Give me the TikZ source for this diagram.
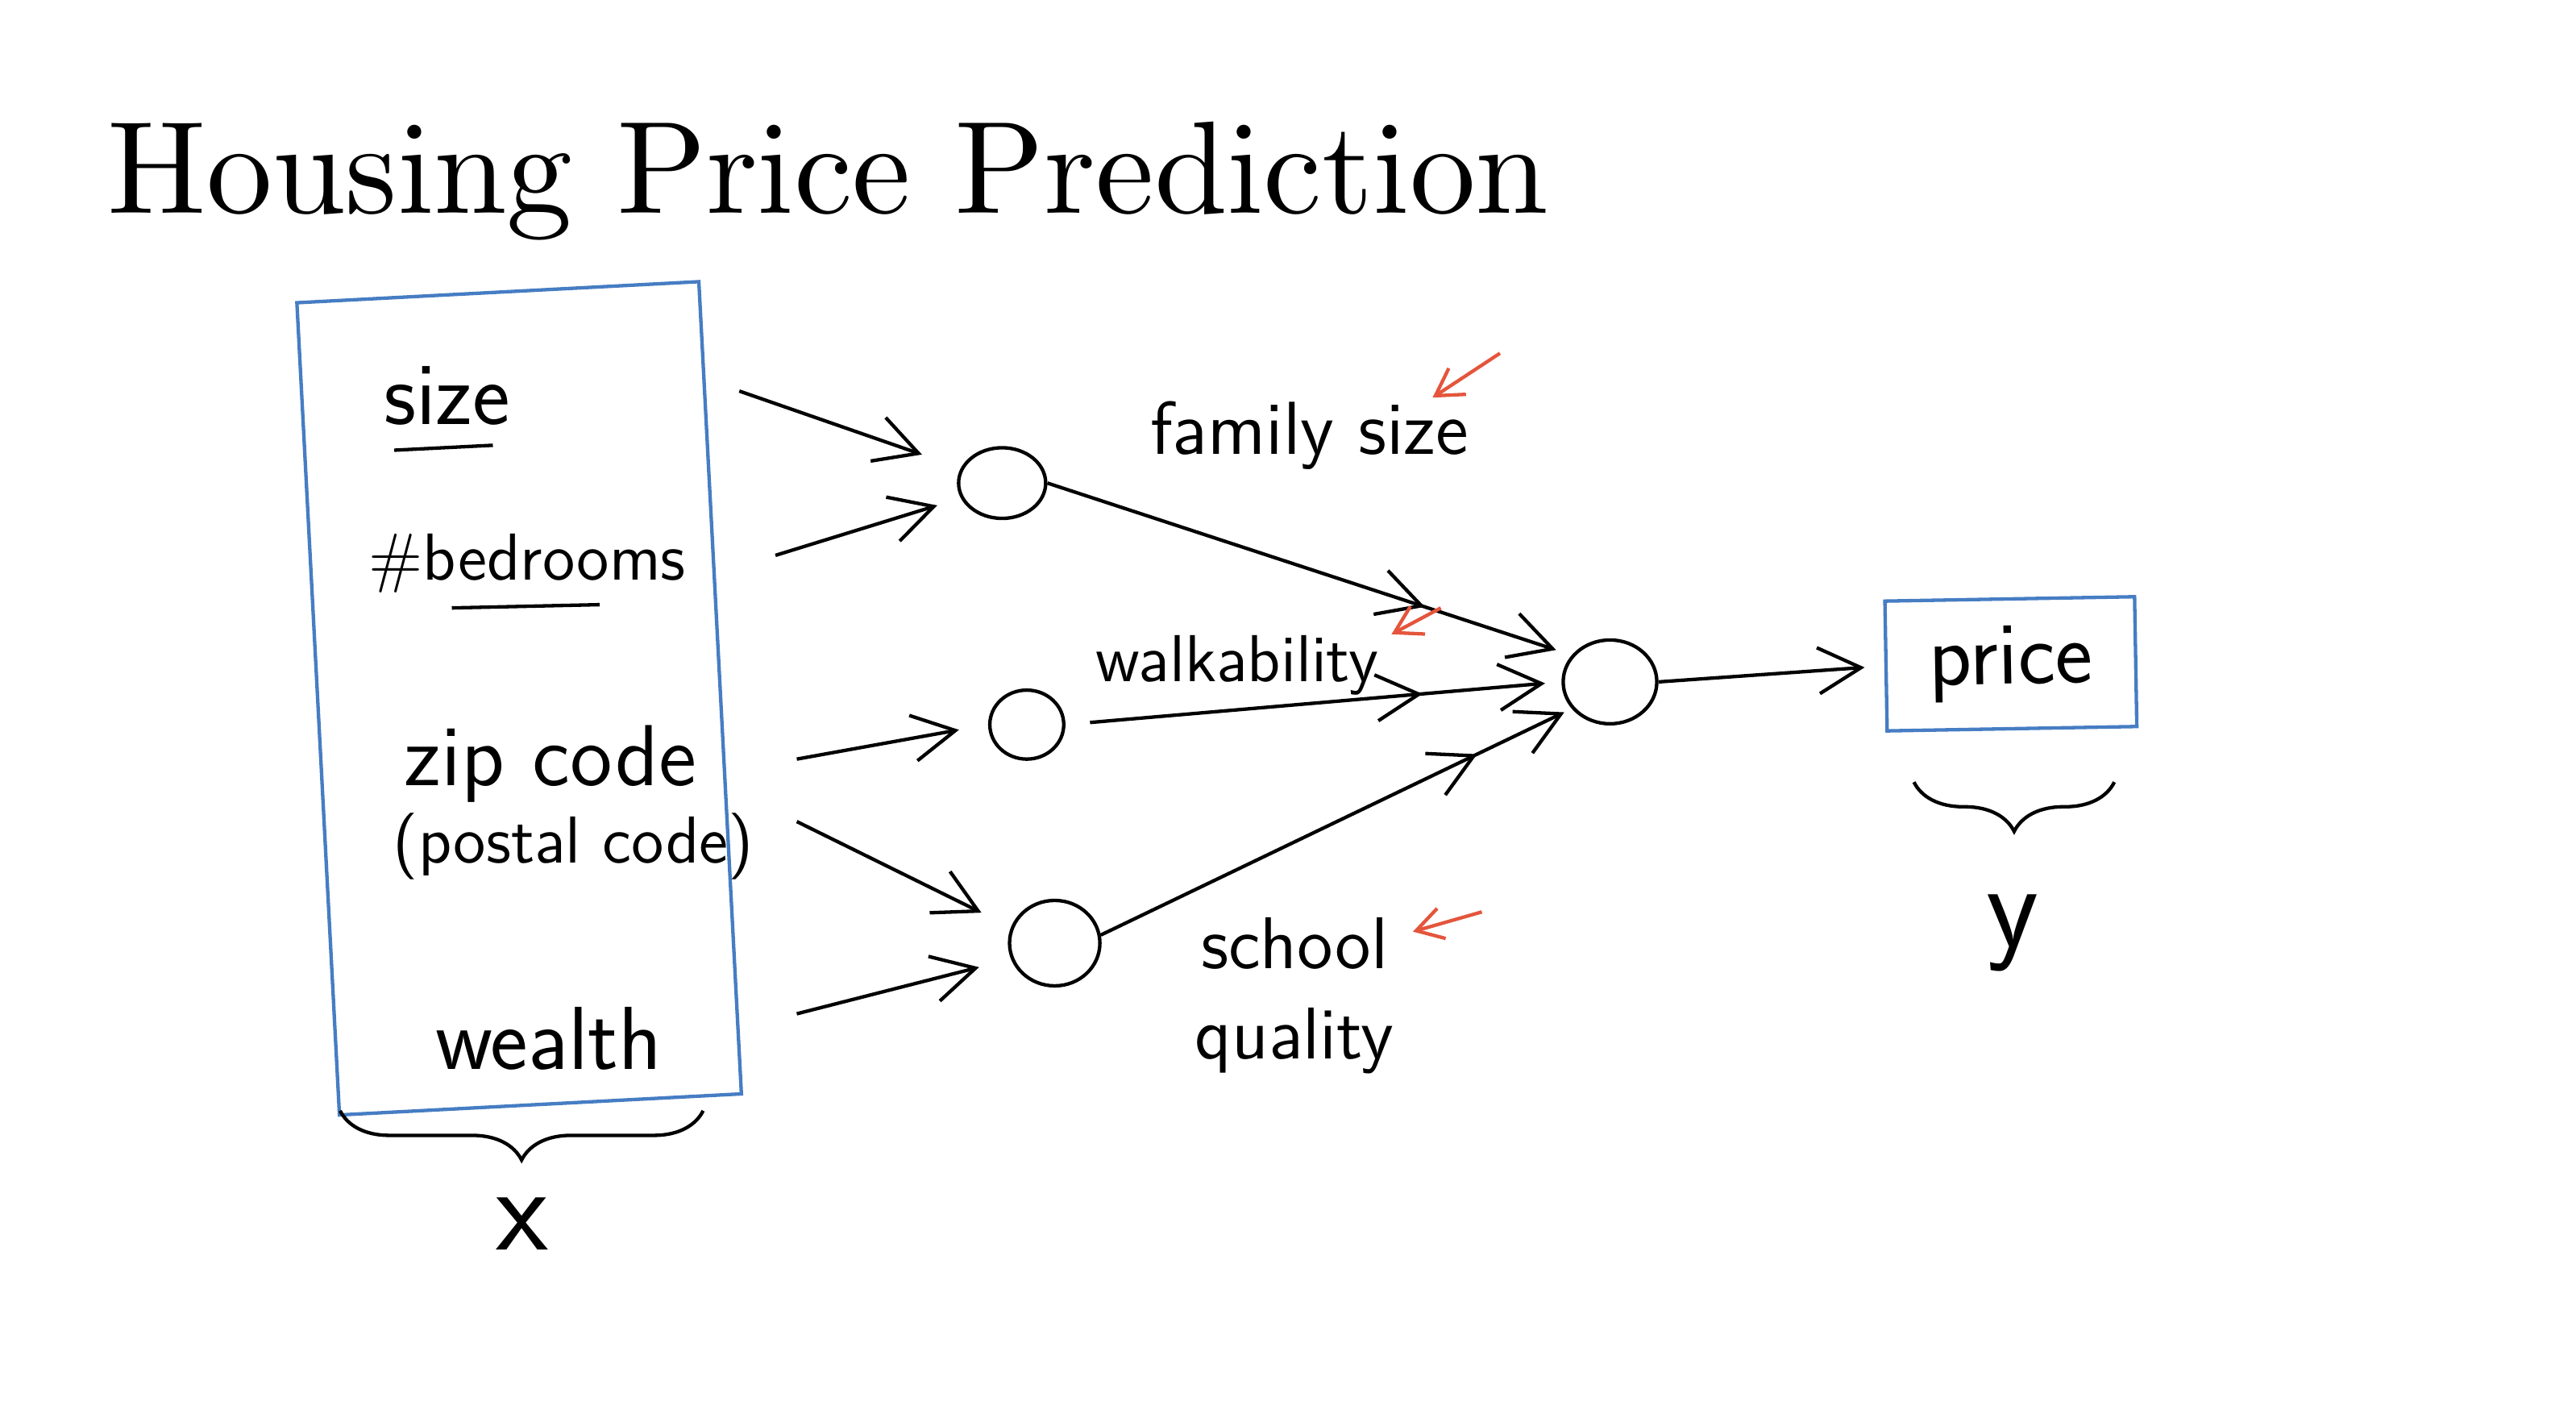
\documentclass[tikz,border=0pt]{standalone}
\usepackage{tikz}
\usepackage{xcolor}
\usetikzlibrary{arrows.meta,shapes.geometric,decorations.pathreplacing,decorations.markings}

\definecolor{penblue}{RGB}{70,125,195}
\definecolor{penred}{RGB}{228,85,60}
\font\headfont=cmr10 at 22.8pt

\begin{document}
\begin{tikzpicture}[x=0.1mm, y=-0.1mm,
    pen/.style={font=\sffamily\fontsize{13}{16}\selectfont, inner sep=1pt, align=center},
    penS/.style={pen, font=\sffamily\fontsize{11.5}{14}\selectfont},
    penL/.style={pen, font=\sffamily\fontsize{15.5}{18}\selectfont},
    penXL/.style={pen, font=\sffamily\fontsize{21}{24}\selectfont},
    unit/.style={draw, ellipse, inner sep=0pt, line width=0.6pt},
    inbox/.style={draw=penblue, line width=0.6pt, minimum width=24.5mm, minimum height=49.5mm, rotate=3},
    wire/.style={line width=0.6pt, -{Straight Barb[length=2.6mm, width=2.8mm]}},
    midhead/.style={postaction={decorate}, decoration={markings, mark=at position #1 with {\arrow{Straight Barb[length=2.6mm, width=2.8mm]}}}},
    midhead/.default=0.72,
    hint/.style={draw=penred, line width=0.6pt, -{Straight Barb[length=1.6mm, width=1.9mm]}},
    curly/.style={decorate, decoration={brace, mirror, amplitude=3mm}, line width=0.6pt}
]
\useasboundingbox (0,0) rectangle (1568,865);
\node[anchor=base west, inner sep=0pt, font=\headfont] (title) at (65,130) {Housing Price Prediction};
\node[inbox] (xbox) at (316,425) {};
\node[penL] (size) at (272,241) {size};
\node[penS] (beds) at (321,343) {\#bedrooms};
\node[penL, font=\sffamily\fontsize{15}{18}\selectfont] (zip) at (335,465) {zip code};
\node[penS] (postal) at (349,515) {(postal code)};
\node[penL] (wealth) at (334,632) {wealth};
\draw[line width=0.6pt] (240,274) -- (300,271);
\draw[line width=0.6pt] (275,370) -- (365,368);
\node[unit, minimum width=5.3mm, minimum height=4.3mm] (h1) at (610,294) {};
\node[unit, minimum width=4.5mm, minimum height=4.2mm] (h2) at (625,441) {};
\node[unit, minimum width=5.5mm, minimum height=5.2mm] (h3) at (642,574) {};
\node[unit, minimum width=5.7mm, minimum height=5.1mm] (out) at (980,415) {};
\node[pen] (famsize) at (797,265) {family size};
\node[penS] (walk) at (753,405) {walkability};
\node[pen, font=\sffamily\fontsize{12.7}{15.5}\selectfont] (school) at (788,606) {school\\quality};
\node[penL, draw=penblue, line width=0.6pt, minimum width=15.2mm, minimum height=7.9mm, rotate=1] (price) at (1224,404) {price};
\node[penXL] (xlab) at (318,745) {x};
\node[penXL] (ylab) at (1225,568) {y};
\coordinate (t1) at (450,238);
\coordinate (t2) at (472,338);
\coordinate (t3) at (485,462);
\coordinate (t4) at (485,500);
\coordinate (t5) at (485,617);
\draw[wire, shorten >=2.5mm] (t1) -- (h1.160);
\draw[wire, shorten >=1.5mm] (t2) -- (h1.200);
\draw[wire, shorten >=1.8mm] (t3) -- (h2.west);
\draw[wire, shorten >=2mm] (t4) -- (h3.160);
\draw[wire, shorten >=2mm] (t5) -- (h3.200);
\draw[wire, midhead, shorten >=1mm] (h1.east) -- (out.145);
\draw[wire, midhead, shorten <=1.5mm, shorten >=1mm] (h2.east) -- (out.west);
\draw[wire, midhead=0.8, shorten >=0.5mm] (h3.10) -- (out.215);
\draw[wire, shorten >=1.2mm] (out.east) -- (price.west);
\coordinate (r1a) at (913,215);
\coordinate (r1b) at (872,242);
\coordinate (r2a) at (877,370);
\coordinate (r2b) at (847,386);
\coordinate (r3a) at (902,555);
\coordinate (r3b) at (860,567);
\draw[hint] (r1a) -- (r1b);
\draw[hint] (r2a) -- (r2b);
\draw[hint] (r3a) -- (r3b);
\coordinate (xl) at (207,676);
\coordinate (xr) at (428,676);
\coordinate (yl) at (1165,476);
\coordinate (yr) at (1287,476);
\draw[curly] (xl) -- (xr);
\draw[curly] (yl) -- (yr);
\end{tikzpicture}
\end{document}
